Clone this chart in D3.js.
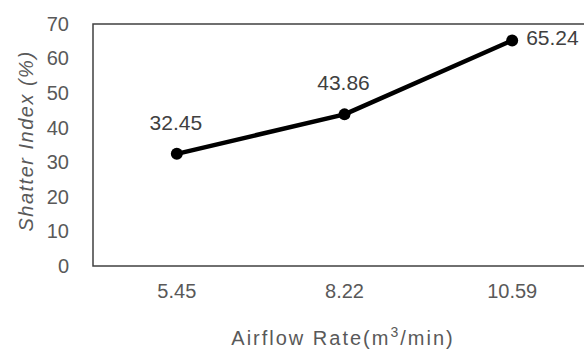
<!DOCTYPE html>
<html><head><meta charset="utf-8">
<script src="https://cdn.jsdelivr.net/npm/d3@7"></script>
<style>body{margin:0;background:#fff}svg{display:block}</style>
</head><body>
<script>
const categories = ["5.45", "8.22", "10.59"];
const values = [32.45, 43.86, 65.24];
const yTicks = [0, 10, 20, 30, 40, 50, 60, 70];

const W = 584, H = 349;
const m = {left: 93, top: 24, bottom: 266};
const plotRight = 596;
const svg = d3.select("body").append("svg").attr("width", W).attr("height", H);
const font = "'Liberation Sans', Arial, sans-serif";
const x = d3.scaleBand().domain(categories).range([m.left, plotRight]);
const y = d3.scaleLinear().domain([0, 70]).range([m.bottom, m.top]);

svg.append("rect").attr("x", m.left).attr("y", m.top)
  .attr("width", plotRight - m.left).attr("height", m.bottom - m.top)
  .attr("fill", "none").attr("stroke", "#404040").attr("stroke-width", 1.5);

const yAxis = svg.append("g").attr("transform", `translate(${m.left},0)`)
  .call(d3.axisLeft(y).tickValues(yTicks).tickSize(0).tickPadding(24));
yAxis.select(".domain").remove();
yAxis.selectAll("text").attr("font-family", font).attr("font-size", 20).attr("fill", "#595959");

const xAxis = svg.append("g").attr("transform", `translate(0,${m.bottom})`)
  .call(d3.axisBottom(x).tickSize(0).tickPadding(18));
xAxis.select(".domain").remove();
xAxis.selectAll("text").attr("font-family", font).attr("font-size", 20).attr("fill", "#595959");

const cx = d => x(d) + x.bandwidth() / 2;
const pts = categories.map((c, i) => [cx(c), y(values[i])]);
svg.append("path").attr("d", d3.line()(pts)).attr("fill", "none")
  .attr("stroke", "#000").attr("stroke-width", 4.5).attr("stroke-linejoin", "round");
svg.selectAll("circle.pt").data(pts).join("circle").attr("class", "pt")
  .attr("cx", d => d[0]).attr("cy", d => d[1]).attr("r", 6).attr("fill", "#000");

// data labels
const lbl = svg.append("g").attr("font-family", font).attr("font-size", 21).attr("fill", "#404040");
categories.forEach((c, i) => {
  if (i < 2) {
    lbl.append("text").attr("x", cx(c) - 1).attr("y", y(values[i]) - 24)
      .attr("text-anchor", "middle").text(values[i].toFixed(2));
  } else {
    lbl.append("text").attr("x", cx(c) + 14).attr("y", y(values[i]) + 5)
      .attr("text-anchor", "start").text(values[i].toFixed(2));
  }
});

svg.append("text").attr("transform", "translate(33,141) rotate(-90)")
  .attr("text-anchor", "middle").attr("font-family", font).attr("font-size", 20)
  .attr("letter-spacing", 1.5)
  .attr("font-style", "italic").attr("fill", "#595959").text("Shatter Index (%)");

const xt = svg.append("text").attr("x", 343).attr("y", 345)
  .attr("text-anchor", "middle").attr("font-family", font).attr("font-size", 20)
  .attr("letter-spacing", 2).attr("fill", "#595959");
xt.append("tspan").text("Airflow Rate(m");
xt.append("tspan").attr("dy", -8).attr("font-size", 14).text("3");
xt.append("tspan").attr("dy", 8).text("/min)");
</script>
</body></html>
